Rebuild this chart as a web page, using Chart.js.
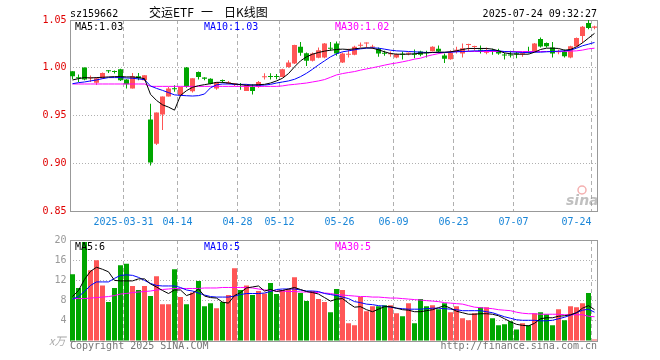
<!DOCTYPE html>
<html>
<head>
<meta charset="utf-8">
<script src="https://cdn.jsdelivr.net/npm/chart.js@4.4.1/dist/chart.umd.min.js"></script>
<style>
  html, body { margin: 0; padding: 0; background: #fff; }
  #wrap { position: relative; width: 660px; height: 360px; }
  canvas { position: absolute; left: 0; }
</style>
</head>
<body>
<div id="wrap">
  <canvas id="kline" width="660" height="225" style="top:0"></canvas>
  <canvas id="vol" width="660" height="135" style="top:225px"></canvas>
</div>
<script>
// trading days shown (2025)
const dates = ['03-18','03-19','03-20','03-21','03-24','03-25','03-26','03-27','03-28','03-31',
  '04-01','04-02','04-03','04-07','04-08','04-09','04-10','04-11','04-14','04-15','04-16','04-17','04-18','04-21','04-22','04-23','04-24','04-25','04-28','04-29','04-30',
  '05-06','05-07','05-08','05-09','05-12','05-13','05-14','05-15','05-16','05-19','05-20','05-21','05-22','05-23','05-26','05-27','05-28','05-29','05-30',
  '06-03','06-04','06-05','06-06','06-09','06-10','06-11','06-12','06-13','06-16','06-17','06-18','06-19','06-20','06-23','06-24','06-25','06-26','06-27','06-30',
  '07-01','07-02','07-03','07-04','07-07','07-08','07-09','07-10','07-11','07-14','07-15','07-16','07-17','07-18','07-21','07-22','07-23','07-24'];

const tickDates = ['03-31','04-14','04-28','05-12','05-26','06-09','06-23','07-07','07-24'];
const tickText = ['2025-03-31','04-14','04-28','05-12','05-26','06-09','06-23','07-07','07-24     '];

const open = [
  0.9963, 0.9897, 1.0002, 0.9890, 0.9844, 0.9890, 0.9967, 0.9960, 0.9984, 0.9876,
  0.9784, 0.9911, 0.9869, 0.9458, 0.9205, 0.9511, 0.9700, 0.9784, 0.9711, 1.0002,
  0.9753, 0.9956, 0.9897, 0.9886, 0.9784, 0.9869, 0.9833, 0.9826, 0.9826, 0.9756,
  0.9798, 0.9798, 0.9900, 0.9907, 0.9907, 0.9904, 1.0009, 1.0044, 1.0219, 1.0153,
  1.0072, 1.0104, 1.0107, 1.0205, 1.0254, 1.0054, 1.0135, 1.0135, 1.0230, 1.0254,
  1.0212, 1.0198, 1.0149, 1.0142, 1.0107, 1.0142, 1.0146, 1.0142, 1.0170, 1.0156,
  1.0174, 1.0198, 1.0128, 1.0089, 1.0177, 1.0149, 1.0237, 1.0216, 1.0184, 1.0156,
  1.0177, 1.0177, 1.0135, 1.0135, 1.0149, 1.0142, 1.0170, 1.0170, 1.0300, 1.0258,
  1.0212, 1.0163, 1.0170, 1.0107, 1.0223, 1.0332, 1.0468, 1.0419];
const high = [
  0.9963, 0.9930, 1.0002, 0.9920, 0.9900, 0.9950, 0.9975, 0.9970, 0.9990, 0.9880,
  0.9946, 0.9946, 0.9921, 0.9623, 0.9532, 0.9700, 0.9798, 0.9816, 0.9800, 1.0009,
  0.9890, 0.9960, 0.9900, 0.9890, 0.9850, 0.9876, 0.9860, 0.9840, 0.9840, 0.9826,
  0.9826, 0.9860, 0.9942, 0.9942, 0.9935, 0.9990, 1.0079, 1.0240, 1.0269, 1.0160,
  1.0160, 1.0212, 1.0260, 1.0269, 1.0275, 1.0160, 1.0198, 1.0230, 1.0265, 1.0265,
  1.0240, 1.0212, 1.0177, 1.0170, 1.0150, 1.0170, 1.0160, 1.0191, 1.0177, 1.0177,
  1.0225, 1.0233, 1.0149, 1.0184, 1.0219, 1.0254, 1.0251, 1.0230, 1.0233, 1.0212,
  1.0198, 1.0198, 1.0156, 1.0177, 1.0170, 1.0163, 1.0219, 1.0260, 1.0318, 1.0265,
  1.0269, 1.0191, 1.0191, 1.0230, 1.0318, 1.0437, 1.0507, 1.0440];
const low = [
  0.9880, 0.9850, 0.9870, 0.9850, 0.9820, 0.9885, 0.9945, 0.9940, 0.9860, 0.9784,
  0.9784, 0.9869, 0.9860, 0.8977, 0.9190, 0.9349, 0.9700, 0.9750, 0.9711, 0.9790,
  0.9740, 0.9876, 0.9870, 0.9826, 0.9770, 0.9840, 0.9826, 0.9810, 0.9770, 0.9756,
  0.9721, 0.9790, 0.9876, 0.9876, 0.9880, 0.9900, 1.0000, 1.0040, 1.0125, 1.0019,
  1.0065, 1.0100, 1.0100, 1.0177, 1.0125, 1.0050, 1.0107, 1.0130, 1.0212, 1.0212,
  1.0200, 1.0114, 1.0125, 1.0114, 1.0100, 1.0086, 1.0130, 1.0100, 1.0120, 1.0107,
  1.0170, 1.0149, 1.0051, 1.0085, 1.0149, 1.0107, 1.0170, 1.0177, 1.0149, 1.0142,
  1.0135, 1.0135, 1.0086, 1.0107, 1.0100, 1.0114, 1.0149, 1.0165, 1.0212, 1.0212,
  1.0107, 1.0142, 1.0107, 1.0100, 1.0220, 1.0258, 1.0402, 1.0402];
const close = [
  0.9911, 0.9890, 0.9876, 0.9897, 0.9890, 0.9946, 0.9963, 0.9956, 0.9869, 0.9826,
  0.9911, 0.9890, 0.9921, 0.9009, 0.9532, 0.9700, 0.9784, 0.9774, 0.9798, 0.9798,
  0.9890, 0.9904, 0.9886, 0.9833, 0.9847, 0.9862, 0.9847, 0.9837, 0.9819, 0.9816,
  0.9756, 0.9851, 0.9907, 0.9904, 0.9904, 0.9984, 1.0054, 1.0237, 1.0156, 1.0072,
  1.0149, 1.0184, 1.0254, 1.0198, 1.0149, 1.0149, 1.0142, 1.0219, 1.0240, 1.0258,
  1.0219, 1.0149, 1.0146, 1.0149, 1.0142, 1.0135, 1.0149, 1.0135, 1.0135, 1.0153,
  1.0219, 1.0170, 1.0093, 1.0156, 1.0184, 1.0205, 1.0244, 1.0223, 1.0177, 1.0184,
  1.0170, 1.0149, 1.0128, 1.0128, 1.0142, 1.0149, 1.0163, 1.0254, 1.0223, 1.0226,
  1.0149, 1.0170, 1.0121, 1.0226, 1.0311, 1.0430, 1.0416, 1.0433];

// price moving averages as drawn
const ma5 = [
  0.9872, 0.9886, 0.9897, 0.9893, 0.9897, 0.9900, 0.9904, 0.9907, 0.9907, 0.9904,
  0.9904, 0.9897, 0.9886, 0.9722, 0.9658, 0.9612, 0.9588, 0.9556, 0.9710, 0.9760,
  0.9795, 0.9812, 0.9823, 0.9833, 0.9847, 0.9847, 0.9840, 0.9830, 0.9823, 0.9816,
  0.9819, 0.9823, 0.9826, 0.9840, 0.9862, 0.9890, 0.9939, 1.0009, 1.0072, 1.0114,
  1.0142, 1.0160, 1.0174, 1.0184, 1.0191, 1.0195, 1.0191, 1.0198, 1.0205, 1.0209,
  1.0205, 1.0188, 1.0167, 1.0149, 1.0142, 1.0142, 1.0142, 1.0146, 1.0153, 1.0156,
  1.0160, 1.0163, 1.0163, 1.0167, 1.0177, 1.0191, 1.0202, 1.0202, 1.0202, 1.0202,
  1.0195, 1.0177, 1.0156, 1.0146, 1.0142, 1.0142, 1.0142, 1.0163, 1.0191, 1.0205,
  1.0205, 1.0202, 1.0184, 1.0191, 1.0219, 1.0261, 1.0311, 1.0360];
const ma10 = [
  0.9833, 0.9844, 0.9851, 0.9862, 0.9872, 0.9886, 0.9897, 0.9897, 0.9897, 0.9893,
  0.9890, 0.9883, 0.9876, 0.9809, 0.9784, 0.9763, 0.9740, 0.9716, 0.9711, 0.9707,
  0.9704, 0.9708, 0.9725, 0.9790, 0.9821, 0.9830, 0.9830, 0.9826, 0.9826, 0.9826,
  0.9819, 0.9816, 0.9819, 0.9826, 0.9840, 0.9851, 0.9862, 0.9879, 0.9907, 0.9942,
  0.9984, 1.0030, 1.0072, 1.0114, 1.0146, 1.0167, 1.0177, 1.0188, 1.0198, 1.0205,
  1.0209, 1.0205, 1.0195, 1.0184, 1.0177, 1.0174, 1.0170, 1.0167, 1.0163, 1.0160,
  1.0160, 1.0160, 1.0160, 1.0163, 1.0167, 1.0170, 1.0174, 1.0177, 1.0177, 1.0181,
  1.0181, 1.0177, 1.0170, 1.0167, 1.0163, 1.0160, 1.0160, 1.0163, 1.0163, 1.0167,
  1.0170, 1.0174, 1.0177, 1.0184, 1.0205, 1.0230, 1.0247, 1.0265];
const ma30 = [
  0.9830, 0.9830, 0.9830, 0.9830, 0.9830, 0.9830, 0.9830, 0.9830, 0.9830, 0.9830,
  0.9830, 0.9830, 0.9830, 0.9805, 0.9805, 0.9805, 0.9805, 0.9805, 0.9805, 0.9805,
  0.9805, 0.9805, 0.9805, 0.9805, 0.9805, 0.9805, 0.9805, 0.9805, 0.9805, 0.9805,
  0.9805, 0.9805, 0.9805, 0.9805, 0.9805, 0.9810, 0.9820, 0.9826, 0.9833, 0.9840,
  0.9851, 0.9862, 0.9876, 0.9900, 0.9925, 0.9939, 0.9950, 0.9960, 0.9975, 0.9988,
  1.0000, 1.0013, 1.0027, 1.0040, 1.0050, 1.0062, 1.0075, 1.0090, 1.0100, 1.0120,
  1.0135, 1.0148, 1.0158, 1.0165, 1.0170, 1.0170, 1.0170, 1.0170, 1.0170, 1.0170,
  1.0170, 1.0170, 1.0170, 1.0170, 1.0170, 1.0170, 1.0170, 1.0170, 1.0170, 1.0170,
  1.0170, 1.0170, 1.0172, 1.0174, 1.0177, 1.0185, 1.0198, 1.0205];

// volume, x万
const volume = [
  13.2, 10.5, 19.6, 14.0, 16.0, 11.0, 7.7, 10.5, 15.0, 15.3,
  10.9, 10.1, 10.9, 8.9, 12.8, 7.3, 7.3, 14.2, 8.7, 7.3,
  9.6, 11.9, 6.9, 7.5, 6.5, 7.7, 9.1, 14.4, 10.1, 11.0,
  9.1, 9.9, 9.4, 11.5, 9.3, 10.1, 10.3, 12.6, 9.5, 7.9,
  9.9, 8.3, 7.7, 5.7, 10.3, 10.1, 3.5, 3.1, 8.7, 5.9,
  6.9, 6.9, 7.1, 7.1, 5.5, 4.9, 7.5, 3.5, 8.3, 6.9,
  7.1, 6.3, 7.5, 5.7, 6.9, 4.5, 4.1, 5.5, 6.7, 6.7,
  4.5, 3.1, 3.3, 3.9, 2.3, 3.5, 3.1, 5.5, 5.7, 5.3,
  3.1, 6.3, 4.1, 6.9, 6.7, 7.5, 9.5, 0.3];
const volMa5 = [
  8.8, 10.0, 12.2, 13.8, 14.6, 14.2, 13.7, 12.0, 11.9, 11.9,
  11.9, 12.3, 12.3, 11.3, 10.7, 10.0, 9.4, 10.1, 10.1, 9.0,
  9.4, 10.3, 8.9, 8.6, 8.5, 7.7, 7.5, 9.0, 9.6, 10.5,
  10.7, 10.9, 9.9, 10.2, 9.8, 10.0, 10.3, 10.6, 10.2, 9.8,
  9.6, 9.3, 8.6, 7.9, 8.3, 8.4, 7.5, 6.7, 6.8, 6.2,
  5.8, 6.3, 6.8, 6.8, 6.5, 6.2, 6.1, 5.8, 5.8, 6.0,
  6.2, 6.6, 7.0, 6.5, 5.9, 5.6, 5.3, 5.3, 5.4, 5.4,
  5.3, 5.0, 4.4, 3.8, 3.3, 3.1, 3.0, 3.5, 4.4, 4.6,
  4.6, 4.9, 5.0, 5.2, 5.6, 6.5, 7.0, 6.2];
const volMa10 = [
  8.3, 8.8, 9.8, 11.0, 11.7, 11.7, 11.7, 12.4, 13.0, 13.1,
  13.0, 12.6, 12.0, 11.4, 11.0, 10.9, 10.9, 10.9, 10.6, 10.1,
  9.9, 9.5, 9.1, 8.8, 8.7, 8.7, 8.7, 8.9, 9.2, 9.4,
  9.4, 9.4, 9.5, 9.8, 10.2, 10.3, 10.3, 10.3, 10.1, 9.9,
  9.9, 9.8, 9.4, 9.2, 9.0, 8.7, 8.4, 7.8, 7.6, 7.3,
  7.2, 7.0, 6.9, 6.7, 6.5, 6.4, 6.3, 6.3, 6.3, 6.4,
  6.5, 6.5, 6.4, 6.3, 6.2, 6.0, 6.0, 6.0, 6.0, 5.8,
  5.6, 5.2, 4.8, 4.5, 4.2, 4.1, 4.1, 4.1, 4.0, 4.0,
  4.1, 4.4, 4.7, 5.1, 5.6, 6.1, 6.3, 5.7];
const volMa30 = [
  8.4, 8.4, 8.4, 8.5, 8.6, 8.7, 8.8, 9.0, 9.3, 9.4,
  9.6, 9.7, 9.8, 9.9, 10.1, 10.2, 10.3, 10.4, 10.4, 10.4,
  10.4, 10.4, 10.5, 10.5, 10.5, 10.6, 10.6, 10.6, 10.6, 10.6,
  10.5, 10.3, 10.1, 10.0, 9.9, 9.9, 9.8, 9.8, 9.7, 9.7,
  9.6, 9.6, 9.5, 9.4, 9.2, 9.1, 9.0, 8.9, 8.8, 8.8,
  8.7, 8.7, 8.6, 8.5, 8.5, 8.4, 8.3, 8.2, 8.1, 8.0,
  7.9, 7.8, 7.6, 7.5, 7.4, 7.3, 7.0, 6.7, 6.6, 6.5,
  6.4, 6.2, 6.1, 6.0, 5.7, 5.5, 5.4, 5.4, 5.3, 5.3,
  5.3, 5.3, 5.2, 5.2, 5.2, 5.2, 4.9, 4.8];

const UP = '#ff5656';
const DOWN = '#00a600';
const GRID = '#b0b0b0';
const MONO = '"DejaVu Sans Mono", "Liberation Mono", monospace';
const candleColors = close.map((c, i) => c >= open[i] ? UP : DOWN);

Chart.defaults.font.family = MONO;
Chart.defaults.font.size = 10;

function xScale(showLabels, axisHeight) {
    return {
        type: 'category',
        offset: true,
        grid: {
            offset: true,
            drawTicks: false,
            lineWidth: 1,
            color: c => tickDates.includes(dates[c.index]) ? GRID : 'rgba(0,0,0,0)'
        },
        border: { display: false, dash: [4, 3] },
        ticks: {
            display: showLabels,
            autoSkip: false,
            maxRotation: 0,
            minRotation: 0,
            padding: 5,
            labelOffset: -3,
            color: '#1a86d8',
            font: { family: MONO, size: 10 },
            callback: (v, i) => {
                const k = tickDates.indexOf(dates[i]);
                return k >= 0 ? tickText[k] : '';
            }
        },
        afterFit: s => { s.height = axisHeight; s.paddingLeft = 0; s.paddingRight = 0; }
    };
}

// frame round the plot area
const framePlugin = {
    id: 'frame',
    beforeDatasetsDraw(chart) {
        const { ctx, chartArea: a } = chart;
        ctx.save();
        ctx.strokeStyle = '#999';
        ctx.lineWidth = 1;
        ctx.strokeRect(Math.round(a.left) + 0.5, Math.round(a.top) + 0.5,
            Math.round(a.right - a.left) - 1, Math.round(a.bottom - a.top));
        ctx.restore();
    }
};

function text(ctx, str, x, y, color, font, align) {
    ctx.fillStyle = color;
    ctx.font = font || ('10px ' + MONO);
    ctx.textAlign = align || 'left';
    ctx.textBaseline = 'alphabetic';
    ctx.fillText(str, x, y);
}

const klineText = {
    id: 'klineText',
    afterDraw(chart) {
        const ctx = chart.ctx;
        ctx.save();
        text(ctx, 'sz159662', 70, 17, '#000');
        const cjk = '12px "Noto Sans CJK SC", sans-serif';
        text(ctx, '交运ETF', 149, 17, '#000', cjk);
        text(ctx, '一', 201, 17, '#000', cjk);
        text(ctx, '日K线图', 224, 17, '#000', cjk);
        text(ctx, '2025-07-24 09:32:27', 597, 17, '#000', null, 'right');
        text(ctx, 'MA5:1.03', 75, 30, '#000');
        text(ctx, 'MA10:1.03', 204, 30, '#0000ff');
        text(ctx, 'MA30:1.02', 335, 30, '#ff00ff');
        // sina watermark
        ctx.strokeStyle = 'rgba(235,110,110,0.55)';
        ctx.lineWidth = 1.5;
        ctx.beginPath();
        ctx.arc(582, 190, 4, 0, Math.PI * 2);
        ctx.stroke();
        text(ctx, 'sina', 566, 205, 'rgba(150,150,150,0.6)', 'italic bold 14px "DejaVu Sans", sans-serif');
        ctx.restore();
    }
};

const volText = {
    id: 'volText',
    afterDraw(chart) {
        const ctx = chart.ctx;
        ctx.save();
        text(ctx, 'MA5:6', 75, 25, '#000');
        text(ctx, 'MA10:5', 204, 25, '#0000ff');
        text(ctx, 'MA30:5', 335, 25, '#ff00ff');
        text(ctx, 'x万', 49, 120, '#aaa', 'italic 11px "Noto Sans CJK SC", sans-serif');
        text(ctx, 'Copyright 2025 SINA.COM', 70, 124, '#777');
        text(ctx, 'http://finance.sina.com.cn', 597, 124, '#777', null, 'right');
        ctx.restore();
    }
};

const lineSet = (data, color) => ({
    type: 'line', data, borderColor: color, borderWidth: 1,
    pointRadius: 0, tension: 0, fill: false, order: 0
});

new Chart(document.getElementById('kline'), {
    type: 'bar',
    data: {
        labels: dates,
        datasets: [
            lineSet(ma5, '#000000'),
            lineSet(ma10, '#0000ff'),
            lineSet(ma30, '#ff00ff'),
            {
                type: 'bar', data: open.map((o, i) => [o, close[i]]),
                backgroundColor: candleColors, barThickness: 5, grouped: false,
                minBarLength: 1, inflateAmount: 0, order: 1
            },
            {
                type: 'bar', data: low.map((l, i) => [l, high[i]]),
                backgroundColor: candleColors, barThickness: 1, grouped: false,
                minBarLength: 1, inflateAmount: 0, order: 2
            }
        ]
    },
    options: {
        responsive: false,
        animation: false,
        devicePixelRatio: 1,
        layout: { padding: { top: 20, right: 62.5, bottom: 0, left: 0 } },
        plugins: { legend: { display: false }, tooltip: { enabled: false } },
        scales: {
            x: xScale(true, 14),
            y: {
                min: 0.85,
                max: 1.05,
                ticks: {
                    stepSize: 0.05, padding: 3, color: '#e00000',
                    font: { family: MONO, size: 10 },
                    callback: v => v.toFixed(2)
                },
                grid: {
                    drawTicks: false,
                    color: c => (c.tick && c.tick.value > 0.86 && c.tick.value < 1.04) ? GRID : 'rgba(0,0,0,0)'
                },
                border: { display: false, dash: [1, 2] },
                afterFit: s => { s.width = 69.5; }
            }
        }
    },
    plugins: [framePlugin, klineText]
});

new Chart(document.getElementById('vol'), {
    type: 'bar',
    data: {
        labels: dates,
        datasets: [
            lineSet(volMa5, '#000000'),
            lineSet(volMa10, '#0000ff'),
            lineSet(volMa30, '#ff00ff'),
            {
                type: 'bar', data: volume, backgroundColor: candleColors,
                barThickness: 5, grouped: false, inflateAmount: 0, order: 1
            }
        ]
    },
    options: {
        responsive: false,
        animation: false,
        devicePixelRatio: 1,
        layout: { padding: { top: 15, right: 62.5, bottom: 0, left: 0 } },
        plugins: { legend: { display: false }, tooltip: { enabled: false } },
        scales: {
            x: xScale(false, 19),
            y: {
                min: 0,
                max: 20,
                ticks: {
                    stepSize: 4, padding: 3, color: '#999',
                    font: { family: MONO, size: 10 },
                    callback: v => v === 0 ? '' : String(v)
                },
                grid: {
                    drawTicks: false,
                    color: c => (c.tick && c.tick.value > 0 && c.tick.value < 20) ? GRID : 'rgba(0,0,0,0)'
                },
                border: { display: false, dash: [1, 2] },
                afterFit: s => { s.width = 69.5; }
            }
        }
    },
    plugins: [framePlugin, volText]
});
</script>
</body>
</html>
